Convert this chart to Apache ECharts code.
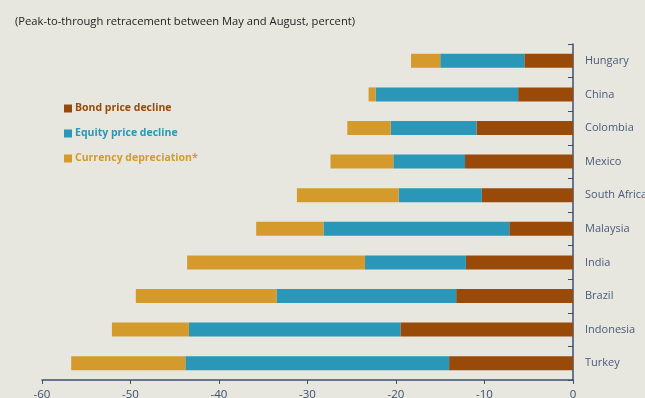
<!DOCTYPE html>
<html>
<head>
    <meta charset="utf-8">
    <script src="https://cdn.jsdelivr.net/npm/echarts@6/dist/echarts.min.js"></script>
    <style>
        html, body {margin: 0; padding: 0; background: #e7e7e0;}
    </style>
</head>
<body>
<div id="main" style="width: 645px; height: 398px"></div>
<script type="text/javascript">
    // data, percent (drawn as negatives)
    var countries = ['Hungary', 'China', 'Colombia', 'Mexico', 'South Africa',
        'Malaysia', 'India', 'Brazil', 'Indonesia', 'Turkey'];
    var bondDecline = [5.5, 6.2, 10.9, 12.2, 10.3, 7.2, 12.1, 13.2, 19.5, 14.0];
    var equityDecline = [9.5, 16.1, 9.7, 8.1, 9.4, 21.0, 11.4, 20.3, 23.9, 29.8];
    var currencyDep = [3.3, 0.8, 4.9, 7.1, 11.5, 7.6, 20.1, 15.9, 8.7, 12.9];
    var xTicks = [-60, -50, -40, -30, -20, -10, 0];

    var colors = {bond: '#9a4a08', equity: '#2a96b8', currency: '#d49b2c'};
    var axisColor = '#3e4f6e';
    var font = 'Open Sans';

    function neg(arr) {
        return arr.map(function (v) { return -v; });
    }

    var myChart = echarts.init(document.getElementById('main'));
    var option = {
        backgroundColor: '#e7e7e0',
        animation: false,
        title: {
            text: '(Peak-to-through retracement between May and August, percent)',
            left: 10, top: 11,
            textStyle: {fontFamily: font, fontSize: 11.2, fontWeight: 'normal', color: '#222'}
        },
        legend: {
            orient: 'vertical',
            left: 59, top: 98,
            itemWidth: 8, itemHeight: 8, itemGap: 14,
            icon: 'rect',
            textStyle: {fontFamily: font, fontSize: 10.5, fontWeight: 'bold', padding: [0, 0, 0, -2]},
            data: [
                {name: 'Bond price decline', textStyle: {color: colors.bond}},
                {name: 'Equity price decline', textStyle: {color: colors.equity}},
                {name: 'Currency depreciation*', textStyle: {color: colors.currency}}
            ]
        },
        grid: {left: 42, right: 72, top: 44, bottom: 18, containLabel: false, outerBoundsMode: 'none'},
        xAxis: {
            type: 'value', min: xTicks[0], max: xTicks[xTicks.length - 1], interval: 10,
            splitLine: {show: false},
            axisLine: {show: true, lineStyle: {color: axisColor, width: 1.5}},
            axisTick: {show: true, length: 4, lineStyle: {color: axisColor}},
            axisLabel: {fontFamily: font, fontSize: 11.5, color: axisColor, margin: 9}
        },
        yAxis: {
            type: 'category', data: countries, inverse: true, position: 'right',
            axisLine: {show: true, lineStyle: {color: axisColor, width: 1.5}},
            axisTick: {show: true, inside: true, length: 5, lineStyle: {color: axisColor}},
            axisLabel: {fontFamily: font, fontSize: 11, color: '#4a5a78', margin: 12}
        },
        series: [
            {
                name: 'Bond price decline', type: 'bar', stack: 'total', barWidth: 14,
                itemStyle: {color: colors.bond},
                data: neg(bondDecline)
            },
            {
                name: 'Equity price decline', type: 'bar', stack: 'total', barWidth: 14,
                itemStyle: {color: colors.equity},
                data: neg(equityDecline)
            },
            {
                name: 'Currency depreciation*', type: 'bar', stack: 'total', barWidth: 14,
                itemStyle: {color: colors.currency},
                data: neg(currencyDep)
            }
        ]
    };
    myChart.setOption(option);
</script>
</body>
</html>
